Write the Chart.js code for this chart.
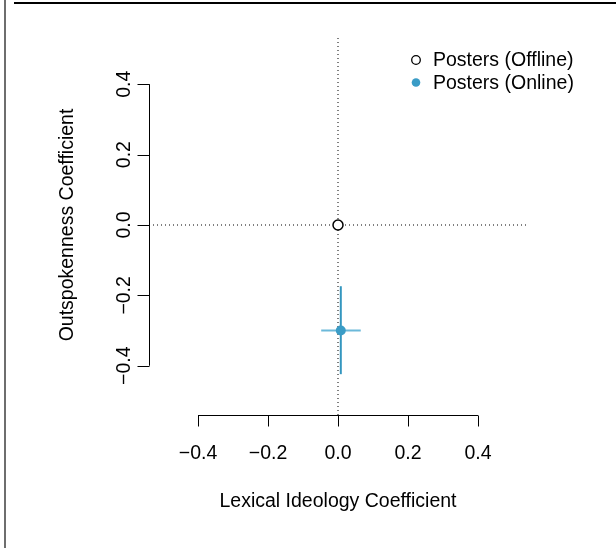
<!DOCTYPE html>
<html>
<head>
<meta charset="utf-8">
<script src="https://cdn.jsdelivr.net/npm/chart.js@4.4.0/dist/chart.umd.min.js"></script>
<style>
    html, body { margin: 0; padding: 0; background: #fff; }
    #wrap { position: relative; width: 616px; height: 548px; overflow: hidden; }
    #frameLeft { position: absolute; left: 4px; top: 0; width: 2px; height: 548px; background: #6e6e6e; }
    #frameTop { position: absolute; left: 14px; top: 2px; width: 602px; height: 2px; background: #000; }
    canvas { display: block; }
</style>
</head>
<body>
<div id="wrap">
    <canvas id="chart" width="616" height="548"></canvas>
    <div id="frameLeft"></div>
    <div id="frameTop"></div>
</div>
<script>
// Data
const groups = ['Posters (Offline)', 'Posters (Online)'];
const ideology = [0.0, 0.008];              // x: lexical ideology coefficient
const outspokenness = [0.0, -0.30];         // y: outspokenness coefficient
const ideologyLow = [null, -0.048];
const ideologyHigh = [null, 0.065];
const outspokenLow = [null, -0.424];
const outspokenHigh = [null, -0.174];
const tickValues = [-0.4, -0.2, 0.0, 0.2, 0.4];
const tickLabels = ['\u22120.4', '\u22120.2', '0.0', '0.2', '0.4'];
const axisLimits = [-0.54, 0.54];

const ONLINE_BLUE = '#3a9cc6';
const FONT = "'Liberation Sans', Arial, Helvetica, sans-serif";
const TEXT_SIZE = '19.5px ';

/**
 * R-style axes, axis titles and legend
 */
const baseAxesPlugin = {
    id: 'baseAxes',
    afterDraw(chart) {
        const { ctx, chartArea, scales } = chart;
        const xs = scales.x, ys = scales.y;
        ctx.save();
        ctx.strokeStyle = '#000';
        ctx.lineWidth = 1;
        ctx.fillStyle = '#000';

        // x axis
        const yAxis = Math.round(chartArea.bottom) + 0.5;
        const x0 = xs.getPixelForValue(tickValues[0]);
        const x1 = xs.getPixelForValue(tickValues[tickValues.length - 1]);
        ctx.beginPath();
        ctx.moveTo(x0, yAxis);
        ctx.lineTo(x1, yAxis);
        tickValues.forEach(v => {
            const px = Math.round(xs.getPixelForValue(v)) + 0.5;
            ctx.moveTo(px, yAxis);
            ctx.lineTo(px, yAxis + 11);
        });
        ctx.stroke();

        ctx.font = TEXT_SIZE + FONT;
        ctx.textAlign = 'center';
        ctx.textBaseline = 'alphabetic';
        tickValues.forEach((v, i) => {
            ctx.fillText(tickLabels[i], xs.getPixelForValue(v), yAxis + 43);
        });

        // y axis
        const xAxis = Math.round(chartArea.left) + 0.5;
        const y0 = ys.getPixelForValue(tickValues[0]);
        const y1 = ys.getPixelForValue(tickValues[tickValues.length - 1]);
        ctx.beginPath();
        ctx.moveTo(xAxis, y0);
        ctx.lineTo(xAxis, y1);
        tickValues.forEach(v => {
            const py = Math.round(ys.getPixelForValue(v)) + 0.5;
            ctx.moveTo(xAxis, py);
            ctx.lineTo(xAxis - 12, py);
        });
        ctx.stroke();

        tickValues.forEach((v, i) => {
            ctx.save();
            ctx.translate(xAxis - 20, ys.getPixelForValue(v));
            ctx.rotate(-Math.PI / 2);
            ctx.fillText(tickLabels[i], 0, 0);
            ctx.restore();
        });

        // axis titles
        ctx.fillText('Lexical Ideology Coefficient', xs.getPixelForValue(0), yAxis + 91);
        ctx.save();
        ctx.translate(xAxis - 77, ys.getPixelForValue(0));
        ctx.rotate(-Math.PI / 2);
        ctx.fillText('Outspokenness Coefficient', 0, 0);
        ctx.restore();

        // legend
        ctx.textAlign = 'left';
        ctx.textBaseline = 'middle';
        const legX = 416, legY = 60, legStep = 22.5;
        groups.forEach((g, i) => {
            const cy = legY + i * legStep;
            ctx.beginPath();
            ctx.arc(legX, cy, 4.3, 0, Math.PI * 2);
            if (i === 0) {
                ctx.fillStyle = '#fff';
                ctx.fill();
                ctx.lineWidth = 1.3;
                ctx.strokeStyle = '#000';
                ctx.stroke();
            } else {
                ctx.fillStyle = ONLINE_BLUE;
                ctx.fill();
            }
            ctx.fillStyle = '#000';
            ctx.fillText(g, legX + 17, cy + 1);
        });
        ctx.restore();
    }
};

function segment(ax, ay, bx, by) {
    return [{ x: ax, y: ay }, { x: bx, y: by }];
}

const datasets = [
    {
        label: groups[0],
        data: [{ x: ideology[0], y: outspokenness[0] }],
        pointRadius: 5,
        pointBackgroundColor: '#fff',
        pointBorderColor: '#000',
        pointBorderWidth: 1.5,
        order: 0
    },
    {
        label: groups[1],
        data: [{ x: ideology[1], y: outspokenness[1] }],
        pointRadius: 5,
        pointBackgroundColor: ONLINE_BLUE,
        pointBorderColor: ONLINE_BLUE,
        pointBorderWidth: 0,
        order: 1
    },
    {
        label: 'online x interval',
        data: segment(ideologyLow[1], outspokenness[1], ideologyHigh[1], outspokenness[1]),
        showLine: true,
        borderColor: '#6cb9da',
        borderWidth: 2,
        pointRadius: 0,
        order: 3
    },
    {
        label: 'online y interval',
        data: segment(ideology[1], outspokenLow[1], ideology[1], outspokenHigh[1]),
        showLine: true,
        borderColor: '#3396bf',
        borderWidth: 2,
        pointRadius: 0,
        order: 2
    },
    {
        label: 'x = 0',
        data: segment(0, axisLimits[0], 0, axisLimits[1]),
        showLine: true,
        borderColor: '#000',
        borderWidth: 1,
        borderDash: [1, 3],
        pointRadius: 0,
        order: 4
    },
    {
        label: 'y = 0',
        data: segment(axisLimits[0], 0, axisLimits[1], 0),
        showLine: true,
        borderColor: '#000',
        borderWidth: 1,
        borderDash: [1, 3],
        pointRadius: 0,
        order: 5
    }
];

new Chart(document.getElementById('chart'), {
    type: 'scatter',
    data: { datasets },
    options: {
        responsive: false,
        animation: false,
        layout: { padding: { left: 149, right: 89, top: 35, bottom: 133 } },
        plugins: { legend: { display: false }, tooltip: { enabled: false } },
        scales: {
            x: { type: 'linear', min: axisLimits[0], max: axisLimits[1], display: false },
            y: { type: 'linear', min: axisLimits[0], max: axisLimits[1], display: false }
        }
    },
    plugins: [baseAxesPlugin]
});
</script>
</body>
</html>
